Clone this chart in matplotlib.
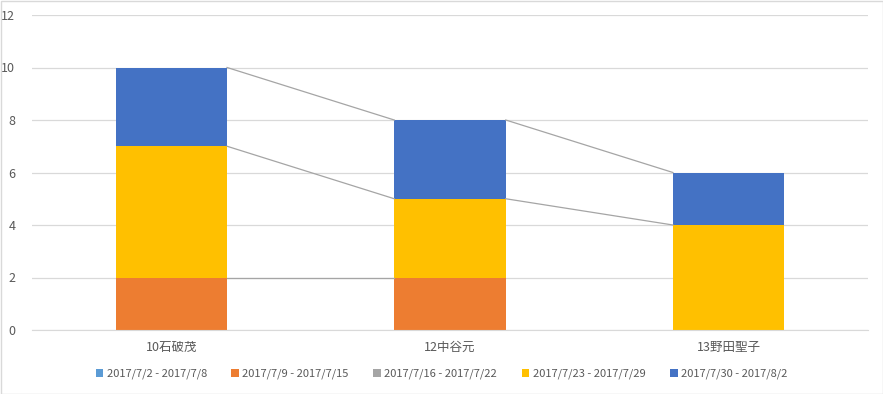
import matplotlib
matplotlib.use("Agg")
import matplotlib.pyplot as plt
import numpy as np
from matplotlib.patches import Rectangle

plt.rcParams['font.family'] = ['Noto Sans CJK JP', 'DejaVu Sans']

categories = ["10石破茂", "12中谷元", "13野田聖子"]
series_names = ["2017/7/2 - 2017/7/8", "2017/7/9 - 2017/7/15", "2017/7/16 - 2017/7/22",
                "2017/7/23 - 2017/7/29", "2017/7/30 - 2017/8/2"]
s1 = [np.nan, np.nan, np.nan]
s2 = [2, 2, np.nan]
s3 = [np.nan, np.nan, np.nan]
s4 = [5, 3, 4]
s5 = [3, 3, 2]
colors = ["#5B9BD5", "#ED7D31", "#A5A5A5", "#FFC000", "#4472C4"]
yticks = [0, 2, 4, 6, 8, 10, 12]

series = [s1, s2, s3, s4, s5]

fig = plt.figure(figsize=(8.83, 3.94), dpi=100)
ax = fig.add_axes([32/883, 1-330/394, (868-32)/883, (330-15)/394])

x = np.arange(len(categories))
width = 0.4
bottom = np.zeros(len(categories))
tops = []
for vals, name, c in zip(series, series_names, colors):
    v = np.array(vals, dtype=float)
    vz = np.nan_to_num(v)
    ax.bar(x, vz, width, bottom=bottom, color=c, label=name, zorder=2)
    top = bottom + vz
    tops.append((v, top.copy()))
    bottom = top

# series lines
for v, top in tops:
    for i in range(len(categories) - 1):
        if not np.isnan(v[i]) and not np.isnan(v[i + 1]):
            ax.plot([x[i] + width / 2, x[i + 1] - width / 2], [top[i], top[i + 1]],
                    color="#A5A5A5", lw=0.9, zorder=3)

ax.set_xlim(-0.5, len(categories) - 0.5)
ax.set_ylim(0, 12)
ax.set_yticks(yticks)
ax.yaxis.grid(True, color="#D9D9D9", lw=0.9, zorder=0)
ax.set_axisbelow(True)
for s in ["top", "right", "left"]:
    ax.spines[s].set_visible(False)
ax.spines["bottom"].set_color("#D9D9D9")
ax.tick_params(axis="both", length=0, colors="#595959", labelsize=9)
ax.tick_params(axis="y", pad=12)
ax.tick_params(axis="x", pad=8)
ax.set_xticks(x)
ax.set_xticklabels(categories)

leg = fig.legend(loc="center", bbox_to_anchor=(0.5, 1-374/394), ncol=5, frameon=False,
                 fontsize=8, handlelength=0.7, handleheight=0.7, handletextpad=0.3,
                 columnspacing=2.2, labelcolor="#595959")

fig.patches.append(Rectangle((0.5/883, 0.5/394), 1-1/883, 1-1/394, transform=fig.transFigure,
                             fill=False, edgecolor="#D9D9D9", lw=1))

fig.savefig("out.png", dpi=100)
